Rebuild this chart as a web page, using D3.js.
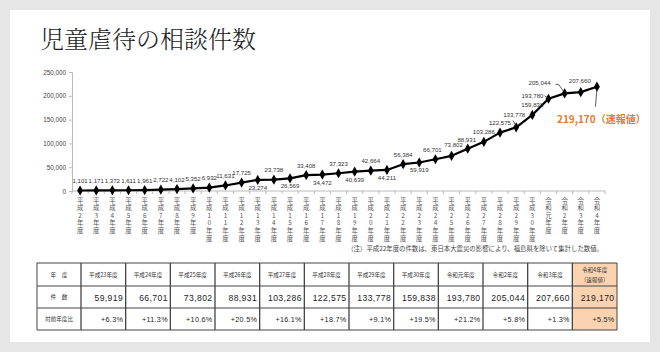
<!DOCTYPE html>
<html>
<head>
<meta charset="utf-8">
<script src="https://cdn.jsdelivr.net/npm/d3@7"></script>
<style>
  html, body { margin: 0; padding: 0; background: #e6e6e6; }
  svg { display: block; }
</style>
</head>
<body>
<div id="chart"></div>
<script>
const width = 660, height = 352;

// 年度と件数
const years = ["平成2年度","平成3年度","平成4年度","平成5年度","平成6年度","平成7年度","平成8年度","平成9年度",
  "平成10年度","平成11年度","平成12年度","平成13年度","平成14年度","平成15年度","平成16年度","平成17年度",
  "平成18年度","平成19年度","平成20年度","平成21年度","平成22年度","平成23年度","平成24年度","平成25年度",
  "平成26年度","平成27年度","平成28年度","平成29年度","平成30年度","令和元年度","令和2年度","令和3年度","令和4年度"];
const counts = [1101,1171,1372,1611,1961,2722,4102,5352,6932,11631,17725,23274,23738,26569,33408,34472,
  37323,40639,42664,44211,56384,59919,66701,73802,88931,103286,122575,133778,159838,193780,205044,207660,219170];
const yTicks = [0,50000,100000,150000,200000,250000];

// 表
const tableYears = ["平成23年度","平成24年度","平成25年度","平成26年度","平成27年度","平成28年度",
  "平成29年度","平成30年度","令和元年度","令和2年度","令和3年度","令和4年度"];
const tableCounts = [59919,66701,73802,88931,103286,122575,133778,159838,193780,205044,207660,219170];
const tableRatio = ["+6.3%","+11.3%","+10.6%","+20.5%","+16.1%","+18.7%","+9.1%","+19.5%","+21.2%","+5.8%","+1.3%","+5.5%"];

const fmt = d3.format(",");
const sans = "'Liberation Sans', Arial, 'Noto Sans CJK JP', sans-serif";
const jp = "'Noto Sans CJK JP', sans-serif";

const svg = d3.select("#chart").append("svg")
  .attr("width", width)
  .attr("height", height);

svg.append("rect").attr("x", 10).attr("y", 10).attr("width", 640).attr("height", 332).attr("fill", "#fff");

svg.append("text")
  .attr("x", 40).attr("y", 48)
  .attr("font-family", "'Noto Serif CJK JP', 'Noto Sans CJK JP', serif")
  .attr("font-weight", 300)
  .attr("font-size", 24)
  .attr("fill", "#222")
  .text("児童虐待の相談件数");

// scales
const x = d3.scaleBand().domain(years).range([72, 605]);
const y = d3.scaleLinear().domain([0, 250000]).range([191, 72]);
const cx = d => x(d) + x.bandwidth() / 2;

// y axis
const yAxis = svg.append("g")
  .attr("transform", "translate(72,0)")
  .call(d3.axisLeft(y).tickValues(yTicks).tickFormat(fmt).tickSize(3).tickPadding(3));
yAxis.select(".domain").attr("stroke", "#bbb");
yAxis.selectAll(".tick line").attr("stroke", "#bbb");
yAxis.selectAll("text").attr("font-family", sans).attr("font-size", 6.3).attr("fill", "#444");

// x axis
const xAxis = svg.append("g").attr("transform", "translate(0,191)");
xAxis.append("line").attr("x1", 72).attr("x2", 605).attr("stroke", "#bbb");
xAxis.selectAll("line.tk")
  .data(d3.range(years.length + 1))
  .join("line")
    .attr("class", "tk")
    .attr("x1", i => 72 + i * x.step()).attr("x2", i => 72 + i * x.step())
    .attr("y1", 0).attr("y2", 3)
    .attr("stroke", "#bbb");

// vertical category labels
const lab = svg.append("g")
  .attr("font-family", jp)
  .attr("font-size", 6.4)
  .attr("fill", "#555")
  .attr("text-anchor", "middle");
years.forEach(yr => {
  Array.from(yr).forEach((ch, k) => {
    lab.append("text")
      .attr("x", cx(yr))
      .attr("y", 202.5 + k * 7.6)
      .text(ch);
  });
});

// line
const line = d3.line().x((d, i) => cx(years[i])).y(d => y(d));
svg.append("path")
  .datum(counts)
  .attr("fill", "none")
  .attr("stroke", "#000")
  .attr("stroke-width", 2.2)
  .attr("stroke-linejoin", "round")
  .attr("d", line);

svg.append("g").selectAll("path")
  .data(counts)
  .join("path")
    .attr("transform", (d, i) => `translate(${cx(years[i])},${y(d)})`)
    .attr("d", d3.symbol(d3.symbolDiamond, 30))
    .attr("fill", "#000");

// value labels
const place = {
  22: {dx: -3, dy: -7},
  23: {dx: 2, dy: -9},
  24: {dx: -1, dy: -7},
  26: {dx: 0, dy: -8},
  27: {dx: -2, dy: -10},
  29: {dx: -5, dy: -1, anchor: "end"},
  30: {dx: -25, dy: -8},
  31: {dx: -1, dy: -9}
};
const vl = svg.append("g")
  .attr("font-family", sans)
  .attr("font-size", 6.1)
  .attr("fill", "#333");
counts.forEach((v, i) => {
  if (i === counts.length - 1) return;
  const px = cx(years[i]), py = y(v);
  let p = place[i];
  if (!p) {
    const below = i >= 11 && i <= 21 && i % 2 === 1;
    p = below ? {dx: 0, dy: 10} : {dx: 0, dy: -7.5};
  }
  vl.append("text")
    .attr("x", px + p.dx)
    .attr("y", py + p.dy)
    .attr("text-anchor", p.anchor || "middle")
    .text(fmt(v));
});

// leader lines
const lead = svg.append("g").attr("stroke", "#333").attr("stroke-width", 0.8).attr("fill", "none");
const pt = i => [cx(years[i]), y(counts[i])];
let [a, b] = pt(26);
lead.append("line").attr("x1", a + 13).attr("y1", b - 12).attr("x2", a + 16).attr("y2", b - 7);
[a, b] = pt(29);
lead.append("line").attr("x1", a - 4).attr("y1", b - 3).attr("x2", a - 1).attr("y2", b - 1);
[a, b] = pt(30);
lead.append("path").attr("d", `M${a - 9},${b - 9}L${a - 6},${b - 9}L${a - 1},${b - 2}`);
[a, b] = pt(32);
lead.append("line").attr("x1", a).attr("y1", b + 2).attr("x2", a - 1.5).attr("y2", b + 20);

svg.append("text")
  .attr("x", 557).attr("y", 123)
  .attr("font-family", jp)
  .attr("font-size", 10)
  .attr("font-weight", 700)
  .attr("fill", "#e67a30")
  .text(fmt(counts[counts.length - 1]) + "（速報値）");

// note
svg.append("text")
  .attr("x", 603).attr("y", 250.5)
  .attr("text-anchor", "end")
  .attr("font-family", jp)
  .attr("font-size", 6.4)
  .attr("fill", "#444")
  .text("（注）平成22年度の件数は、東日本大震災の影響により、福島県を除いて集計した数値。");

// table
const tx0 = 37, col0 = 44, tRight = 617;
const cw = (tRight - tx0 - col0) / tableYears.length;
const rowsY = [263, 286, 308, 330];
const colX = i => tx0 + col0 + i * cw;
const tbl = svg.append("g");

tbl.append("rect")
  .attr("x", colX(tableYears.length - 1)).attr("y", rowsY[0])
  .attr("width", cw).attr("height", rowsY[3] - rowsY[0])
  .attr("fill", "#fbd3b0");

rowsY.forEach(ry => {
  tbl.append("line").attr("x1", tx0).attr("x2", tRight).attr("y1", ry).attr("y2", ry)
    .attr("stroke", "#444").attr("stroke-width", 1);
});
d3.range(tableYears.length + 2).forEach(i => {
  const lx = i === 0 ? tx0 : colX(i - 1);
  tbl.append("line").attr("x1", lx).attr("x2", lx).attr("y1", rowsY[0]).attr("y2", rowsY[3])
    .attr("stroke", "#444").attr("stroke-width", i === 0 || i === tableYears.length + 1 ? 1 : 1.3);
});

const rowHead = ["年　度", "件　数", "対前年度比"];
rowHead.forEach((t, r) => {
  tbl.append("text")
    .attr("x", tx0 + col0 / 2).attr("y", (rowsY[r] + rowsY[r + 1]) / 2 + 2)
    .attr("text-anchor", "middle")
    .attr("font-family", jp).attr("font-size", 5.6).attr("fill", "#333")
    .text(t);
});

tableYears.forEach((t, i) => {
  const mid = colX(i) + cw / 2;
  if (i === tableYears.length - 1) {
    tbl.append("text").attr("x", mid).attr("y", 271.5).attr("text-anchor", "middle")
      .attr("font-family", jp).attr("font-size", 5.6).attr("fill", "#333").text(t);
    tbl.append("text").attr("x", mid).attr("y", 281.5).attr("text-anchor", "middle")
      .attr("font-family", jp).attr("font-size", 5.6).attr("fill", "#333").text("（速報値）");
  } else {
    tbl.append("text").attr("x", mid).attr("y", 276.5).attr("text-anchor", "middle")
      .attr("font-family", jp).attr("font-size", 5.6).attr("fill", "#333").text(t);
  }
  tbl.append("text")
    .attr("x", colX(i) + cw - 2.5).attr("y", 300.5)
    .attr("text-anchor", "end")
    .attr("font-family", sans).attr("font-size", 8.6).attr("letter-spacing", 0.4).attr("fill", "#222")
    .text(fmt(tableCounts[i]));
  tbl.append("text")
    .attr("x", colX(i) + cw - 2.5).attr("y", 322)
    .attr("text-anchor", "end")
    .attr("font-family", sans).attr("font-size", 7.2).attr("letter-spacing", 0.3).attr("fill", "#222")
    .text(tableRatio[i]);
});
</script>
</body>
</html>
